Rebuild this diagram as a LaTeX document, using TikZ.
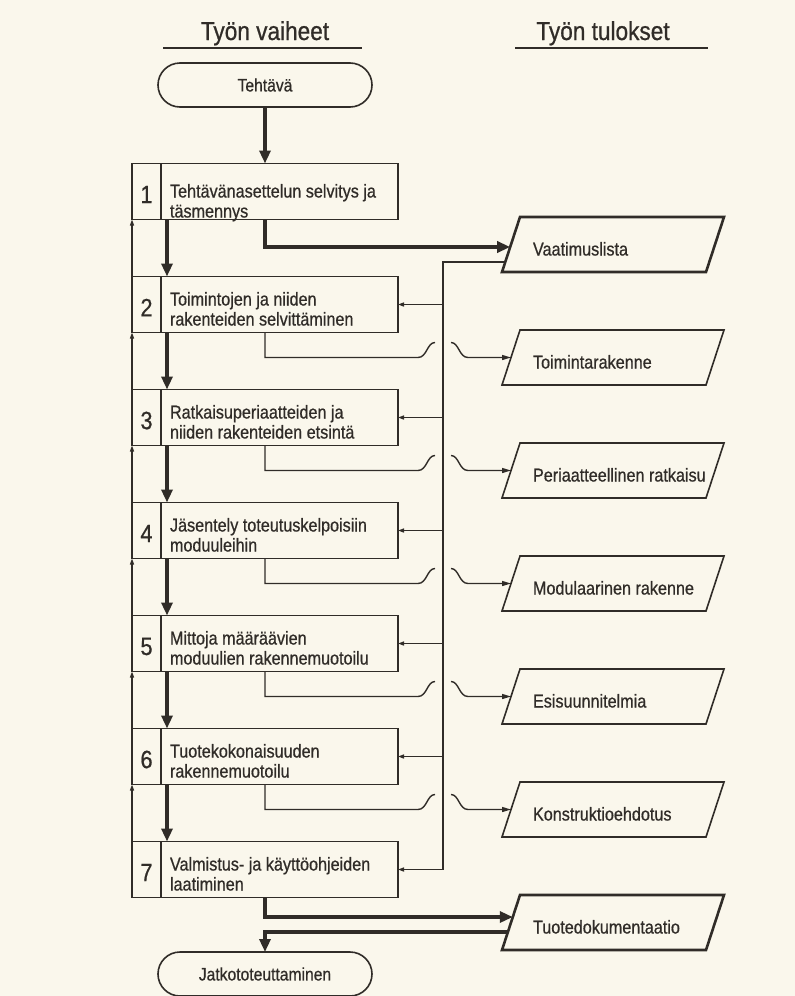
\documentclass[tikz,border=0pt]{standalone}
\usepackage{fontspec}
\setmainfont{Liberation Sans}[FakeStretch=0.87,FakeBold=0.7]
\usetikzlibrary{arrows.meta,calc}
\definecolor{paper}{RGB}{250,247,236}
\definecolor{ink}{RGB}{48,44,40}
\newcommand{\mkstep}[4]{%
  \node[stepbox] (b#1) at (265,#2) {};
  \draw[boxline] ($(b#1.north west)+(29,0)$) -- ($(b#1.south west)+(29,0)$);
  \node[numtxt] (n#1) at ($(b#1.west)+(14.5,3)$) {#1};
  \node[txt, anchor=north west, align=left] (s#1) at ($(b#1.north west)+(38,#4)$) {#3};
}
\newcommand{\mkout}[4]{%
  \node[outbox] (p#1) at (613,#2) {};
  \draw[draw=ink, line width=#4, line join=miter] ($(p#1.south west)+(-9,0)$) -- ($(p#1.north west)+(9,0)$) -- ($(p#1.north east)+(9,0)$) -- ($(p#1.south east)+(-9,0)$) -- cycle;
  \node[txt, anchor=base west] (q#1) at ($(p#1.west)+(22,11)$) {#3};
}
\begin{document}
\begin{tikzpicture}[x=1pt,y=-1pt,
  every node/.style={text=ink, inner sep=0pt, outer sep=0pt},
  txt/.style={font=\fontsize{18.6}{20}\selectfont},
  numtxt/.style={font=\fontsize{25}{25}\selectfont},
  title/.style={font=\fontsize{26}{26}\selectfont},
  stepbox/.style={draw=ink, line width=1.8pt, minimum width=266pt, minimum height=56pt},
  boxline/.style={draw=ink, line width=1.8pt},
  term/.style={draw=ink, line width=1.6pt, rounded corners=22pt, minimum width=214pt, minimum height=44pt, font=\fontsize{18}{20}\selectfont},
  outbox/.style={minimum width=204pt, minimum height=55pt},
  thickarrow/.style={draw=ink, line width=3.2pt, -{Triangle[length=13pt,width=11pt]}},
  thinline/.style={draw=ink, line width=1.4pt},
  smallarrow/.style={thinline, -{Triangle[length=6pt,width=4pt]}},
  outarrow/.style={thinline, -{Triangle[length=9pt,width=5pt]}},
  uline/.style={draw=ink, line width=1.6pt}
]
\useasboundingbox (0,0) rectangle (795,996);
\fill[paper] (0,0) rectangle (795,996);

% titles
\node[title, anchor=base] (h1) at (265,40) {Työn vaiheet};
\node[title, anchor=base] (h2) at (603,40) {Työn tulokset};
\draw[uline] ($(h1.base)+(-102,8)$) -- ($(h1.base)+(97,8)$);
\draw[uline] ($(h2.base)+(-88,8)$) -- ($(h2.base)+(105,8)$);

% terminals
\node[term] (t0) at (265,85) {Tehtävä};
\node[term] (t8) at (265,974) {Jatkototeuttaminen};

% steps
\mkstep{1}{191.5}{\strut Tehtävänasettelun selvitys ja\\\strut täsmennys}{20}
\mkstep{2}{304.5}{\strut Toimintojen ja niiden\\\strut rakenteiden selvittäminen}{15}
\mkstep{3}{417.5}{\strut Ratkaisuperiaatteiden ja\\\strut niiden rakenteiden etsintä}{15}
\mkstep{4}{530.5}{\strut Jäsentely toteutuskelpoisiin\\\strut moduuleihin}{15}
\mkstep{5}{643.5}{\strut Mittoja määräävien\\\strut moduulien rakennemuotoilu}{15}
\mkstep{6}{756.5}{\strut Tuotekokonaisuuden\\\strut rakennemuotoilu}{15}
\mkstep{7}{869.5}{\strut Valmistus- ja käyttöohjeiden\\\strut laatiminen}{15}

% results
\mkout{1}{244.5}{Vaatimuslista}{2.6pt}
\mkout{2}{357.5}{Toimintarakenne}{1.6pt}
\mkout{3}{470.5}{Periaatteellinen ratkaisu}{1.6pt}
\mkout{4}{583.5}{Modulaarinen rakenne}{1.6pt}
\mkout{5}{696.5}{Esisuunnitelmia}{1.6pt}
\mkout{6}{809.5}{Konstruktioehdotus}{1.6pt}
\mkout{7}{922.5}{Tuotedokumentaatio}{2.6pt}

\coordinate (p1in) at ($(p1.west)+(-0.8,2.5)$);
\coordinate (p1out) at ($(p1.west)+(-5.7,17.5)$);
\coordinate (p7in) at ($(p7.west)+(1.8,-5.5)$);
\coordinate (p7out) at ($(p7.west)+(-3,9.5)$);

% main flow
\draw[thickarrow] (t0.south) -- (b1.north);
\foreach \k [evaluate=\k as \j using int(\k+1)] in {1,...,6} {
  \draw[thickarrow] ($(b\k.south west)+(35,0)$) -- ($(b\j.north west)+(35,0)$);
  \draw[smallarrow] (b\j.north west) -- (b\k.south west);
}
\draw[thickarrow] (b1.south) |- (p1in);
\draw[thickarrow] (b7.south) |- (p7in);
\draw[thickarrow] (p7out) -| (t8.north);

% feedback bus from requirement list
\draw[smallarrow] (p1out) -| ($(b7.east)+(45,0)$) -- (b7.east);
\foreach \k in {2,...,6} {
  \draw[smallarrow] ($(b\k.east)+(45,0)$) -- (b\k.east);
}

% outputs with line hops
\foreach \k in {2,...,6} {
  \path (b\k.east |- p\k.west) ++(45,0) coordinate (hop\k);
  \draw[thinline] (b\k.south) |- ($(hop\k)+(-25,0)$) .. controls ($(hop\k)+(-16,0)$) and ($(hop\k)+(-16,-15)$) .. ($(hop\k)+(-8,-15)$);
  \draw[outarrow] ($(hop\k)+(8,-15)$) .. controls ($(hop\k)+(16,-15)$) and ($(hop\k)+(16,0)$) .. ($(hop\k)+(25,0)$) -- (p\k.west);
}
\end{tikzpicture}
\end{document}
